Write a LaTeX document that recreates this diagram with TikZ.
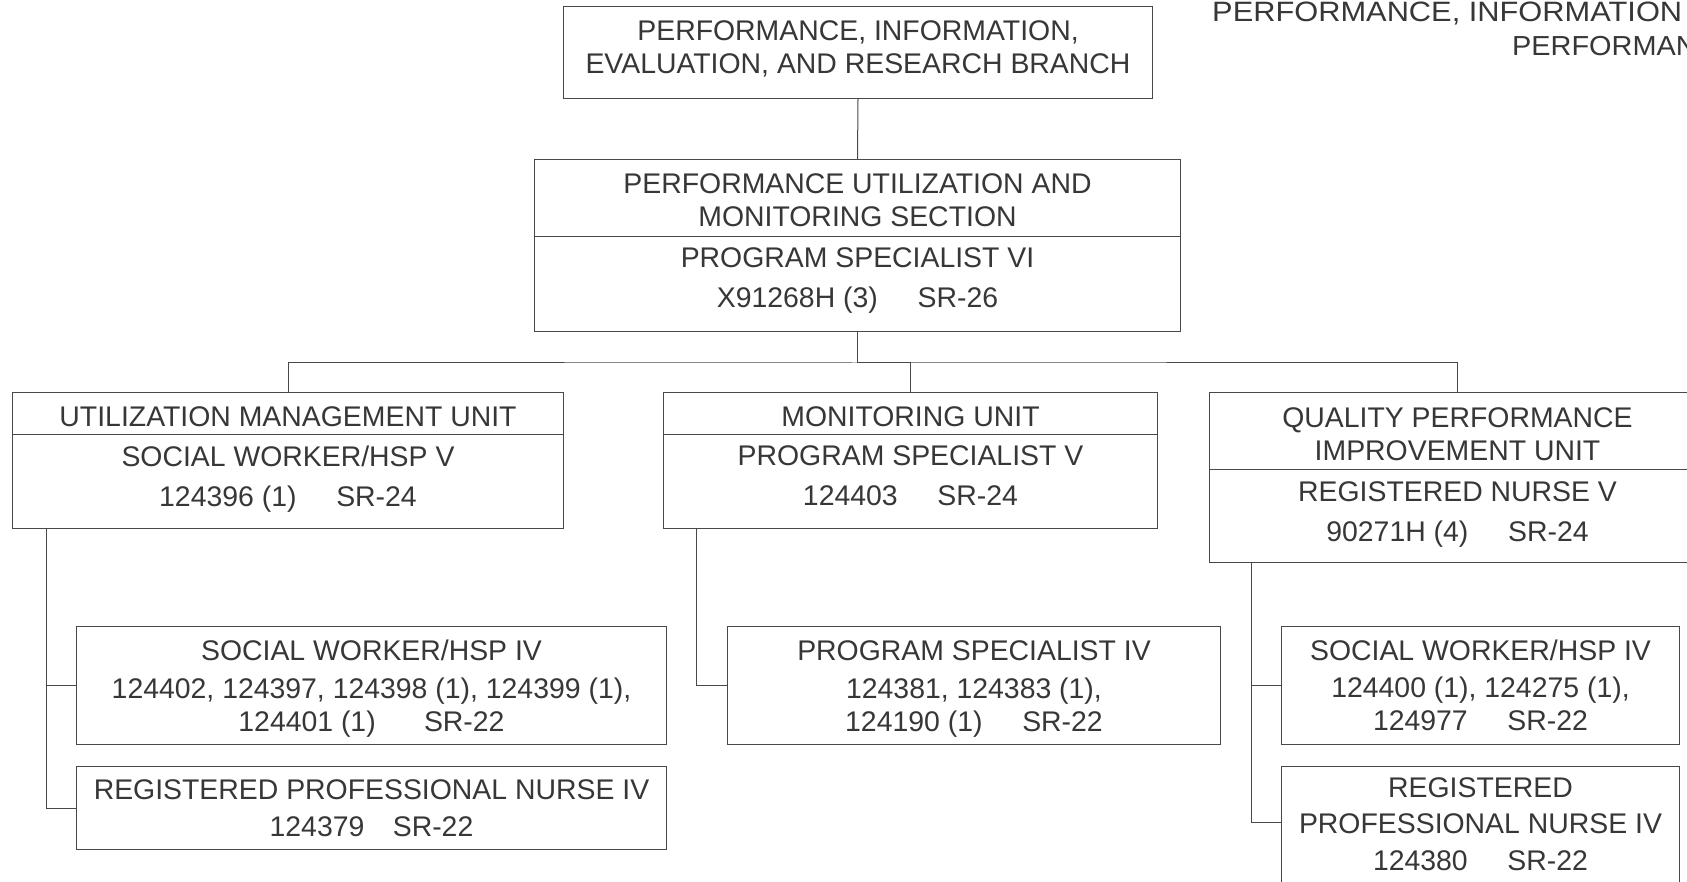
\documentclass[tikz,border=0pt]{standalone}
\usepackage{fontspec}
\setmainfont{Liberation Sans}
\usepackage{graphicx}
\usepackage{tikz}

\definecolor{chartline}{RGB}{72,72,72}
\definecolor{charttext}{RGB}{55,55,55}
\newcommand{\gradegap}{\hspace{1.4em}}
% invisible struts that push a box's text up or down
\newcommand{\liftdepth}[1]{\rule[-#1]{0pt}{#1}}
\newcommand{\dropheight}[1]{\rule{0pt}{#1}}

\tikzset{
  orgbox/.style={draw=chartline, line width=1pt, rectangle, inner sep=0pt,
    anchor=north west, align=center, text=charttext,
    font=\fontsize{28.4}{33}\selectfont},
  link/.style={draw=chartline, line width=1pt},
  pagehead/.style={anchor=base west, inner sep=0pt, text=charttext}
}

\begin{document}
\begin{tikzpicture}[x=1pt,y=-1pt]
            \useasboundingbox (0,0) rectangle (1687,882);
            \fill[white] (0,0) rectangle (1687,882);
            \clip (0,0) rectangle (1687,882);

            % page heading, cut off at the right edge
            \node[pagehead, font=\fontsize{28}{33}\selectfont] (headmain) at (1212,21.7) {\scalebox{1.1}[1]{PERFORMANCE, INFORMATION}};
            \node[pagehead, font=\fontsize{27.5}{33}\selectfont] (headsub) at (1512,55.7) {\scalebox{1.05}[1]{PERFORMAN}};

            \node[orgbox, minimum width=589pt, minimum height=92pt] (branch) at (563,6) {PERFORMANCE, INFORMATION,\\EVALUATION, AND RESEARCH BRANCH\liftdepth{10pt}};

            \node[orgbox, minimum width=646pt, minimum height=77pt] (sect) at (534,159) {\dropheight{24.5pt}PERFORMANCE UTILIZATION AND\\MONITORING SECTION};
            \node[orgbox, minimum width=646pt, minimum height=95pt] (secb) at (534,236) {PROGRAM SPECIALIST VI\\[7pt]X91268H (3)\gradegap SR-26\liftdepth{12.5pt}};

            \node[orgbox, minimum width=551pt, minimum height=42pt] (umt) at (12,392) {\dropheight{27pt}UTILIZATION MANAGEMENT UNIT};
            \node[orgbox, minimum width=551pt, minimum height=94pt] (umb) at (12,434) {SOCIAL WORKER/HSP V\\[7pt]124396 (1)\gradegap SR-24\liftdepth{10.4pt}};

            \node[orgbox, minimum width=494pt, minimum height=42pt] (mont) at (663,392) {\dropheight{27pt}MONITORING UNIT};
            \node[orgbox, minimum width=494pt, minimum height=94pt] (monb) at (663,434) {PROGRAM SPECIALIST V\\[7pt]124403\gradegap SR-24\liftdepth{11pt}};

            \node[orgbox, minimum width=496pt, minimum height=77pt] (qpit) at (1209,392) {\dropheight{26pt}QUALITY PERFORMANCE\\IMPROVEMENT UNIT};
            \node[orgbox, minimum width=496pt, minimum height=93pt] (qpib) at (1209,469) {REGISTERED NURSE V\\[7pt]90271H (4)\gradegap SR-24\liftdepth{8pt}};

            \node[orgbox, minimum width=590pt, minimum height=118pt] (swl) at (76,626) {\dropheight{27.4pt}SOCIAL WORKER/HSP IV\\[4.6pt]124402, 124397, 124398 (1), 124399 (1),\\124401 (1)\hspace{1.7em}SR-22};
            \node[orgbox, minimum width=590pt, minimum height=83pt] (rpnl) at (76,766) {REGISTERED PROFESSIONAL NURSE IV\\[4.4pt]124379\hspace{1em}SR-22};

            \node[orgbox, minimum width=493pt, minimum height=118pt] (psiv) at (727,626) {\dropheight{27.4pt}PROGRAM SPECIALIST IV\\[4.6pt]124381, 124383 (1),\\124190 (1)\gradegap SR-22};

            \node[orgbox, minimum width=398pt, minimum height=118pt] (swr) at (1281,626) {SOCIAL WORKER/HSP IV\\[4.6pt]124400 (1), 124275 (1),\\124977\gradegap SR-22};
            \node[orgbox, minimum width=398pt, minimum height=124pt] (rpnr) at (1281,766) {REGISTERED\\[3.5pt]PROFESSIONAL NURSE IV\\[3.5pt]124380\gradegap SR-22\liftdepth{9.6pt}};

            \draw[link] (branch.south) -- (sect.north);
            \draw[link] (secb.south) -- ++(0,31) coordinate (bus);
            \draw[link] (umt.north) |- (bus) -| (qpit.north);
            \draw[link] (bus) -| (mont.north);

            \coordinate (umtrunk) at ([xshift=34pt]umb.south west);
            \draw[link] (umtrunk) |- (swl.west);
            \draw[link] (umtrunk) |- (rpnl.west);

            \coordinate (montrunk) at ([xshift=33pt]monb.south west);
            \draw[link] (montrunk) |- (psiv.west);

            \coordinate (qpitrunk) at ([xshift=42pt]qpib.south west);
            \draw[link] (qpitrunk) |- (swr.west);
            \draw[link] (qpitrunk) |- ([yshift=6pt]rpnr.west);
        \end{tikzpicture}
\end{document}
